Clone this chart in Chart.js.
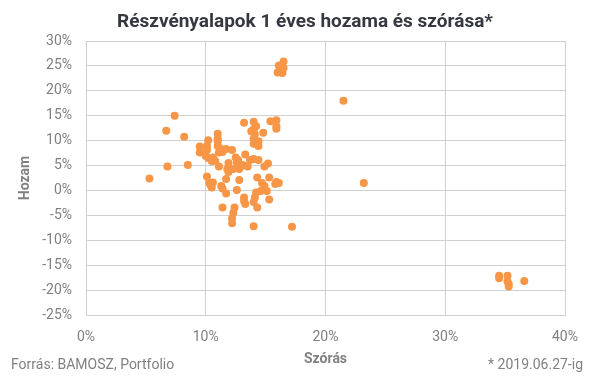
<!DOCTYPE html>
<html lang="hu">
<head>
    <meta charset="UTF-8">
    <title>Részvényalapok 1 éves hozama és szórása</title>
    <script src="https://cdn.jsdelivr.net/npm/chart.js"></script>
    <style>
        body {
            margin: 0;
            background: white;
        }
        .chart-box {
            position: relative;
            width: 605px;
            height: 378px;
        }
    </style>
</head>
<body>

<div class="chart-box">
    <canvas id="scatterChart"></canvas>
</div>

<script>
    // szórás (%) and hozam (%) per fund
    const szoras = [
        16.1, 16.5, 16.5, 16.0, 16.4,
        21.5, 23.2, 17.2, 14.0,
        34.5, 34.5, 35.2, 35.2, 35.3, 35.3, 36.6,
        7.4, 6.7, 8.2, 6.8, 8.5, 5.3,
        11.0, 11.0, 11.0, 10.2,
        9.5, 9.5, 10.1, 10.1,
        11.0, 11.2, 11.1, 11.4, 11.7, 12.2,
        10.0, 10.2, 10.6, 10.8, 10.5,
        11.1, 11.9, 11.8, 11.9,
        12.5, 12.7, 12.6, 13.3,
        12.3, 12.9, 13.1, 13.5, 12.8,
        13.7, 14.0, 14.4, 15.2, 14.9,
        10.1, 10.6, 10.4, 10.5, 10.3,
        11.7, 11.3, 11.4, 12.8, 11.7, 12.6,
        14.3, 14.7, 14.9, 15.3, 15.9, 16.1, 15.8, 15.1, 14.6, 14.2, 15.3,
        13.2, 13.2, 13.3, 14.1, 14.0, 14.3,
        11.4, 12.4, 12.3, 12.2, 12.2,
        13.2, 14.0, 14.2, 15.4, 15.9, 15.9, 15.9,
        13.8, 14.0, 14.1, 14.8,
        14.0, 14.4, 14.0, 14.4
    ];
    const hozam = [
        25.1, 25.9, 24.6, 23.7, 23.6,
        18.0, 1.5, -7.3, -7.2,
        -17.1, -17.6, -17.1, -18.3, -18.8, -19.3, -18.2,
        15.0, 12.0, 10.8, 4.8, 5.1, 2.4,
        11.4, 10.4, 9.9, 10.1,
        8.8, 7.6, 8.9, 8.1,
        8.9, 8.4, 7.6, 7.7, 8.3, 8.1,
        6.9, 6.5, 6.6, 5.9, 5.9,
        4.8, 5.5, 4.3, 3.7,
        6.6, 6.1, 5.6, 7.2,
        4.3, 4.8, 5.1, 4.8, 4.3,
        6.1, 6.3, 6.1, 5.4, 4.8,
        2.8, 1.6, 1.1, 0.6, 1.5,
        2.3, 0.9, 0.4, 2.1, -0.6, 0.1,
        2.6, 1.5, 0.9, 2.6, 1.7, 1.5, 1.3, -0.1, -0.1, -0.4, -1.8,
        -1.4, -2.1, -2.7, -1.4, -2.3, -3.4,
        -3.4, -3.4, -4.5, -5.6, -6.6,
        13.6, 13.8, 12.9, 13.9, 14.1, 12.9, 12.4,
        11.9, 12.3, 11.3, 11.6,
        10.4, 9.9, 9.4, 8.9
    ];

    const xTicks = [0, 10, 20, 30, 40];
    const yTicks = [-25, -20, -15, -10, -5, 0, 5, 10, 15, 20, 25, 30];

    const points = szoras.map((x, i) => ({ x: x, y: hozam[i] }));

    const grey = '#808080';
    const gridColor = '#d0d0d0';

    // title, axis names and footer texts
    const textPlugin = {
        id: 'texts',
        afterDraw(chart) {
            const c = chart.ctx;
            const area = chart.chartArea;
            c.save();
            c.textBaseline = 'middle';

            c.fillStyle = '#353840';
            c.font = 'bold 19px Roboto';
            c.textAlign = 'center';
            c.fillText('Részvényalapok 1 éves hozama és szórása*', 305, 22);

            c.fillStyle = grey;
            c.font = 'bold 14px Roboto';
            c.fillText('Szórás', (area.left + area.right) / 2, 359);

            c.save();
            c.translate(25, (area.top + area.bottom) / 2);
            c.rotate(-Math.PI / 2);
            c.fillText('Hozam', 0, 0);
            c.restore();

            c.font = '14px Roboto';
            c.textAlign = 'left';
            c.fillText('Forrás: BAMOSZ, Portfolio', 11, 365);
            c.textAlign = 'right';
            c.fillText('* 2019.06.27-ig', 583, 365);
            c.restore();
        }
    };

    const ctx = document.getElementById('scatterChart').getContext('2d');
    new Chart(ctx, {
        type: 'scatter',
        data: {
            datasets: [{
                label: 'Alapok',
                data: points,
                backgroundColor: '#F79646',
                borderWidth: 0,
                pointRadius: 4,
                pointHoverRadius: 4
            }]
        },
        options: {
            responsive: true,
            maintainAspectRatio: false,
            animation: false,
            layout: {
                padding: { top: 41, right: 40, bottom: 0, left: 0 }
            },
            scales: {
                x: {
                    type: 'linear',
                    min: xTicks[0],
                    max: xTicks[xTicks.length - 1],
                    afterFit(scale) { scale.height = 63; },
                    afterBuildTicks(scale) { scale.ticks = xTicks.map(v => ({ value: v })); },
                    grid: { color: gridColor, drawTicks: false },
                    border: { color: gridColor },
                    ticks: {
                        color: grey,
                        padding: 14,
                        maxRotation: 0,
                        font: { family: 'Roboto', size: 14 },
                        callback: v => v + '%'
                    }
                },
                y: {
                    type: 'linear',
                    min: yTicks[0],
                    max: yTicks[yTicks.length - 1],
                    afterFit(scale) { scale.width = 86; },
                    afterBuildTicks(scale) { scale.ticks = yTicks.map(v => ({ value: v })); },
                    grid: { color: gridColor, drawTicks: false },
                    border: { color: gridColor },
                    ticks: {
                        color: grey,
                        padding: 14,
                        font: { family: 'Roboto', size: 14 },
                        callback: v => v + '%'
                    }
                }
            },
            plugins: {
                legend: { display: false },
                title: { display: false },
                tooltip: { enabled: false }
            }
        },
        plugins: [textPlugin]
    });
</script>

</body>
</html>
